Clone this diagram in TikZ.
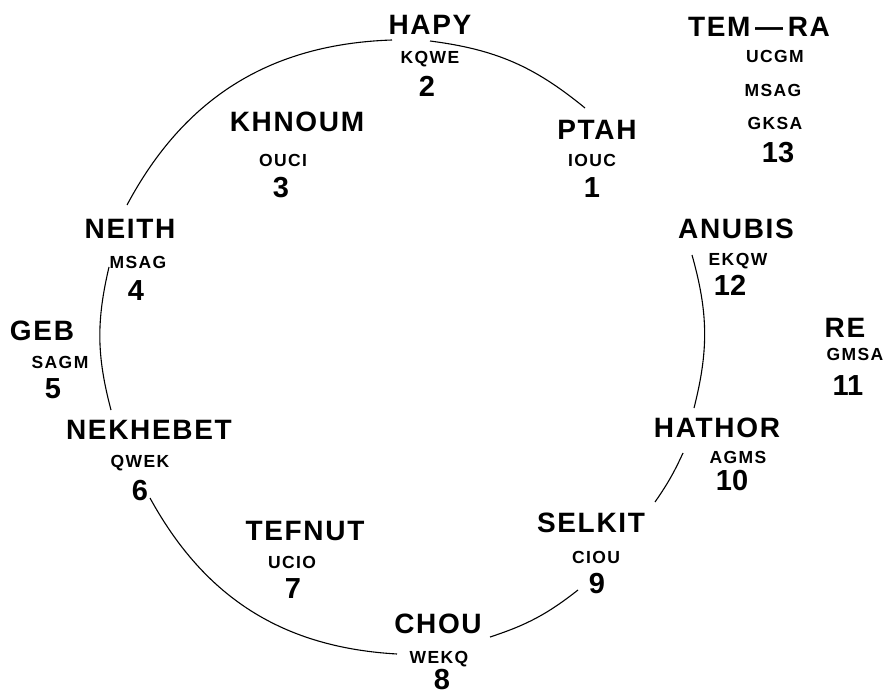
\documentclass[tikz,border=0pt]{standalone}
\usepackage{fontspec}
\setmainfont{Liberation Sans}
\newfontfamily\namefont[LetterSpace=6]{Liberation Sans}
\newfontfamily\codefont[LetterSpace=8]{Liberation Sans}
\begin{document}
\begin{tikzpicture}[x=1pt,y=-1pt,
  godname/.style={font=\namefont\bfseries\fontsize{28}{30}\selectfont, anchor=base, inner sep=0pt},
  godcode/.style={font=\codefont\bfseries\fontsize{17.5}{19}\selectfont, anchor=base, inner sep=0pt},
  godnum/.style={font=\bfseries\fontsize{29}{31}\selectfont, anchor=base, inner sep=0pt},
  ring/.style={line width=1.1pt, black}]
\fill[white] (0,0) rectangle (883,695);
\useasboundingbox (0,0) rectangle (883,695);

% HAPY
\node[godname] (n-hapy) at (430,35) {HAPY};
\node[godcode] (c-hapy) at (430,64) {KQWE};
\node[godnum]  (d-hapy) at (427,97) {2};
% PTAH
\node[godname] (n-ptah) at (597,140) {PTAH};
\node[godcode] (c-ptah) at (592,167) {IOUC};
\node[godnum]  (d-ptah) at (592,197) {1};
% KHNOUM
\node[godname] (n-khnoum) at (297,132) {KHNOUM};
\node[godcode] (c-khnoum) at (283,167) {OUCI};
\node[godnum]  (d-khnoum) at (281,197) {3};
% TEM-RA
\node[godname] (n-temra) at (759,37) {TEM\,—\,RA};
\node[godcode] (c-temra1) at (775,63) {UCGM};
\node[godcode] (c-temra2) at (773,97) {MSAG};
\node[godcode] (c-temra3) at (775,130) {GKSA};
\node[godnum]  (d-temra) at (778,163) {13};
% NEITH
\node[godname] (n-neith) at (130,238) {NEITH};
\node[godcode] (c-neith) at (138,268) {MSAG};
\node[godnum]  (d-neith) at (136,300) {4};
% GEB
\node[godname] (n-geb) at (42,340) {GEB};
\node[godcode] (c-geb) at (60,368) {SAGM};
\node[godnum]  (d-geb) at (53,398) {5};
% NEKHEBET
\node[godname] (n-nekh) at (149,439) {NEKHEBET};
\node[godcode] (c-nekh) at (140,467) {QWEK};
\node[godnum]  (d-nekh) at (140,500) {6};
% TEFNUT
\node[godname] (n-tefnut) at (305,540) {TEFNUT};
\node[godcode] (c-tefnut) at (292,568) {UCIO};
\node[godnum]  (d-tefnut) at (293,598) {7};
% CHOU
\node[godname] (n-chou) at (438,633) {CHOU};
\node[godcode] (c-chou) at (439,663) {WEKQ};
\node[godnum]  (d-chou) at (442,689) {8};
% SELKIT
\node[godname] (n-selkit) at (591,532) {SELKIT};
\node[godcode] (c-selkit) at (596,563) {CIOU};
\node[godnum]  (d-selkit) at (597,593) {9};
% HATHOR
\node[godname] (n-hathor) at (717,437) {HATHOR};
\node[godcode] (c-hathor) at (738,463) {AGMS};
\node[godnum]  (d-hathor) at (732,490) {10};
% ANUBIS
\node[godname] (n-anubis) at (736,238) {ANUBIS};
\node[godcode] (c-anubis) at (738,265) {EKQW};
\node[godnum]  (d-anubis) at (730,295) {12};
% RE
\node[godname] (n-re) at (845,337) {RE};
\node[godcode] (c-re) at (855,360) {GMSA};
\node[godnum]  (d-re) at (848,395) {11};

% arc end points
\coordinate (e-hapy-r) at (430,41);
\coordinate (e-ptah) at (585,108);
\coordinate (e-hapy-l) at (392,40);
\coordinate (e-neith-t) at (127,205);
\coordinate (e-neith-b) at (109,267);
\coordinate (e-nekh-t) at (111,410);
\coordinate (e-six) at (150,498);
\coordinate (e-chou-l) at (397,654);
\coordinate (e-chou-r) at (490,637);
\coordinate (e-nine) at (578,590);
\coordinate (e-selkit-r) at (655,502);
\coordinate (e-hathor-b) at (683,453);
\coordinate (e-hathor-t) at (694,408);
\coordinate (e-anubis) at (692,255);

\draw[ring] (e-hapy-r) to[bend left=16] (e-ptah);
\draw[ring] (e-anubis) to[bend left=15] (e-hathor-t);
\draw[ring] (e-hathor-b) to[bend left=5] (e-selkit-r);
\draw[ring] (e-nine) to[bend left=10] (e-chou-r);
\draw[ring] (e-chou-l) to[bend left=29] (e-six);
\draw[ring] (e-nekh-t) to[bend left=14] (e-neith-b);
\draw[ring] (e-neith-t) to[bend left=30] (e-hapy-l);
\end{tikzpicture}
\end{document}
